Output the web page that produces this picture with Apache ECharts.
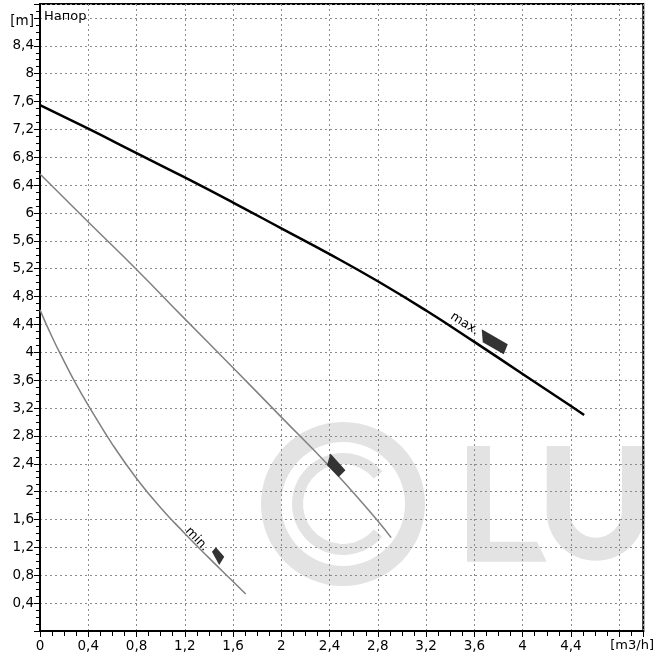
<!DOCTYPE html>
<html><head><meta charset="utf-8">
<script src="https://cdn.jsdelivr.net/npm/echarts@6/dist/echarts.min.js"></script>
<style>html,body{margin:0;padding:0;background:#fff}#c{width:657px;height:659px}</style>
</head><body><div id="c"></div>
<script>
// ---- data ----
const flowMax = [0, 0.4, 0.8, 1.2, 1.6, 2.0, 2.4, 2.8, 3.2, 3.6, 4.0, 4.4, 4.51];
const headMax = [7.55, 7.21, 6.86, 6.51, 6.15, 5.78, 5.41, 5.02, 4.60, 4.15, 3.69, 3.23, 3.10];
const flowMid = [0, 0.4, 0.8, 1.2, 1.6, 2.0, 2.4, 2.8, 2.91];
const headMid = [6.56, 5.87, 5.19, 4.48, 3.78, 3.07, 2.36, 1.58, 1.34];
const flowMin = [0, 0.1, 0.2, 0.3, 0.4, 0.6, 0.8, 1.0, 1.2, 1.4, 1.6, 1.705];
const headMin = [4.61, 4.22, 3.87, 3.54, 3.24, 2.68, 2.19, 1.77, 1.40, 1.05, 0.71, 0.53];
const xAxisRange = [0, 5];
const yAxisRange = [0, 9];
const tickStep = 0.4;
const xUnitLabel = '[m3/h]';
const yUnitLabel = '[m]';
const yTitle = 'Напор';
const curveLabels = ['max.', 'min.'];
// annotation anchors (data space)
const maxLabelAt = [3.52, 4.41];
const maxMarkerAt = [3.769, 4.151];
const midMarkerAt = [2.455, 2.38];
const minLabelAt = [1.30, 1.32];
const minMarkerAt = [1.476, 1.074];

const font = 'DejaVu Sans';
const pair = (xs, ys) => xs.map((x, i) => [x, ys[i]]);
const fmt = v => String(Math.round(v * 10) / 10).replace('.', ',');
const near = (a, b) => Math.abs(a - b) < 1e-6;

const chart = echarts.init(document.getElementById('c'));
const gridLineX = { show: true, lineStyle: { color: '#8c8c8c', width: 1, type: [2, 3] } };
const gridLineY = { show: true, lineStyle: { color: '#8c8c8c', width: 1, type: [2, 3] } };
const wm = { fill: '#e3e3e3' };

chart.setOption({
  animation: false,
  backgroundColor: '#fff',
  grid: { left: 40, right: 11, top: 4, bottom: 28, show: true, borderColor: '#000', borderWidth: 2, backgroundColor: 'rgba(0,0,0,0)', containLabel: false },
  xAxis: {
    type: 'value', min: xAxisRange[0], max: xAxisRange[1], interval: tickStep,
    axisLine: { show: true, onZero: false, lineStyle: { color: '#000', width: 2 } },
    axisTick: { show: true, length: 6, lineStyle: { color: '#000' } },
    minorTick: { show: true, splitNumber: 4, length: 5, lineStyle: { color: '#000' } },
    splitLine: gridLineX,
    minorSplitLine: { show: false },
    axisLabel: {
      color: '#000', fontFamily: font, fontSize: 13.5, margin: 8, showMaxLabel: false,
      formatter: v => near(v, 4.8) ? '{u|' + xUnitLabel + '}' : (near(v, 5) ? '' : fmt(v)),
      rich: { u: { fontFamily: font, fontSize: 13, color: '#000', padding: [0, 0, 0, 26] } }
    }
  },
  yAxis: {
    type: 'value', min: yAxisRange[0], max: yAxisRange[1], interval: tickStep,
    axisLine: { show: true, lineStyle: { color: '#000', width: 2 } },
    axisTick: { show: true, length: 6, lineStyle: { color: '#000' } },
    minorTick: { show: true, splitNumber: 4, length: 4, lineStyle: { color: '#000' } },
    splitLine: gridLineY,
    minorSplitLine: { show: false },
    axisLabel: {
      color: '#000', fontFamily: font, fontSize: 13.5, margin: 6, showMaxLabel: false,
      formatter: v => near(v, 0) || near(v, 9) ? '' : (near(v, 8.8) ? '{m|' + yUnitLabel + '}' : fmt(v)),
      rich: { m: { fontFamily: font, fontSize: 13.5, color: '#000', padding: [7, 0, 0, 0] } }
    }
  },
  graphic: [
    { type: 'ring', z: -10, silent: true, shape: { cx: 343, cy: 504, r: 82, r0: 62 }, style: wm },
    { type: 'sector', z: -10, silent: true, shape: { cx: 343, cy: 504, r: 51, r0: 40, startAngle: Math.PI * 0.22, endAngle: Math.PI * 1.78, clockwise: true }, style: wm },
    { type: 'polygon', z: -10, silent: true, shape: { points: [[467, 446], [490, 446], [490, 541.7], [537, 541.7], [546.7, 561.7], [467, 561.7]] }, style: wm },
    { type: 'rect', z: -10, silent: true, shape: { x: 546.7, y: 446, width: 23.3, height: 66 }, style: wm },
    { type: 'rect', z: -10, silent: true, shape: { x: 622, y: 446, width: 23, height: 66 }, style: wm },
    { type: 'sector', z: -10, silent: true, shape: { cx: 595.85, cy: 511.7, r: 49.15, r0: 26, startAngle: 0, endAngle: Math.PI, clockwise: true }, style: wm },
    { type: 'text', left: 44, top: 10, z: 10, style: { text: yTitle, fill: '#000', font: '13px "DejaVu Sans"' } }
  ],
  series: [
    {
      type: 'line', name: 'max', data: pair(flowMax, headMax), smooth: true, symbol: 'none',
      lineStyle: { color: '#000', width: 2.5 }, z: 5,
      markPoint: {
        animation: false,
        data: [
          { coord: maxMarkerAt, symbol: 'path://M0,0L26,15L22,25L1,13Z', symbolSize: [26, 25], itemStyle: { color: '#333' }, label: { show: false } },
          { coord: maxLabelAt, symbol: 'circle', symbolSize: 0, label: { show: true, position: 'inside', formatter: curveLabels[0], rotate: -33, color: '#000', fontFamily: font, fontSize: 12.5 } }
        ]
      }
    },
    {
      type: 'line', name: 'mid', data: pair(flowMid, headMid), smooth: true, symbol: 'none',
      lineStyle: { color: '#808080', width: 1.5 }, z: 4,
      markPoint: {
        animation: false,
        data: [
          { coord: midMarkerAt, symbol: 'path://M3.4,0L18.4,16.7L11.7,23.4L0,11.7Z', symbolSize: [18.4, 23.4], itemStyle: { color: '#333' }, label: { show: false } }
        ]
      }
    },
    {
      type: 'line', name: 'min', data: pair(flowMin, headMin), smooth: true, symbol: 'none',
      lineStyle: { color: '#808080', width: 1.5 }, z: 4,
      markPoint: {
        animation: false,
        data: [
          { coord: minMarkerAt, symbol: 'path://M4,0L12.3,9.4L7.3,17.7L0,4.4Z', symbolSize: [12.3, 17.7], itemStyle: { color: '#333' }, label: { show: false } },
          { coord: minLabelAt, symbol: 'circle', symbolSize: 0, label: { show: true, position: 'inside', formatter: curveLabels[1], rotate: -47, color: '#000', fontFamily: font, fontSize: 12.5 } }
        ]
      }
    }
  ]
});
</script></body></html>
